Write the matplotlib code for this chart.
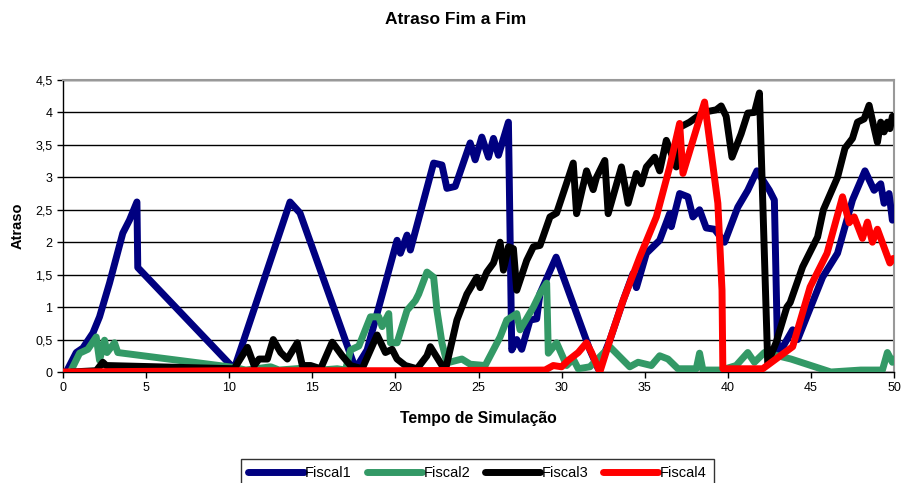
import matplotlib
matplotlib.use("Agg")
import matplotlib.pyplot as plt
from matplotlib.ticker import FuncFormatter, MultipleLocator

plt.rcParams['font.family'] = ['Liberation Sans', 'DejaVu Sans']

title = "Atraso Fim a Fim"
xlabel = "Tempo de Simulação"
ylabel = "Atraso"
series_names = ["Fiscal1", "Fiscal2", "Fiscal3", "Fiscal4"]
colors = ["#000080", "#339966", "#000000", "#FF0000"]

f1_x = [0.2, 0.8, 1.2, 1.8, 2.2, 2.8, 3.6, 4.0, 4.45, 4.5, 10.3, 13.66, 14.26, 17.6,
        18.3, 20.1, 20.3, 20.7, 20.9, 22.3, 22.8, 23.1, 23.6, 24.5, 24.8, 25.2, 25.6, 25.9, 26.2, 26.8,
        27.0, 27.3, 27.6, 28.1, 28.5, 28.7, 29.67, 31.7, 32.2,
        32.9, 33.7, 34.3, 34.5, 35.1, 35.9, 36.5, 36.6, 37.1, 37.6, 37.9, 38.3, 38.7, 39.2, 39.8,
        40.6, 41.2, 41.75, 42.5, 42.8, 43.0, 43.9, 44.2, 45.7, 46.6, 47.5, 48.25, 48.8, 49.2, 49.4, 49.7, 49.9, 50.0]
f1_y = [0.0, 0.3, 0.37, 0.6, 0.85, 1.37, 2.14, 2.34, 2.62, 1.61, 0.05, 2.62, 2.45, 0.05,
        0.34, 2.03, 1.83, 2.11, 1.88, 3.22, 3.19, 2.83, 2.86, 3.53, 3.27, 3.62, 3.31, 3.6, 3.34, 3.85,
        0.34, 0.5, 0.35, 0.8, 0.82, 1.21, 1.77, 0.34, 0.05,
        0.49, 1.1, 1.52, 1.3, 1.83, 2.03, 2.44, 2.24, 2.75, 2.7, 2.39, 2.5, 2.22, 2.2, 2.0,
        2.54, 2.8, 3.1, 2.8, 2.65, 0.25, 0.65, 0.5, 1.46, 1.83, 2.65, 3.1, 2.8, 2.9, 2.6, 2.75, 2.34, 2.5]

f2_x = [0.5, 1.0, 1.5, 2.0, 2.2, 2.5, 2.65, 3.1, 3.3, 10.3, 11.0, 12.5, 13.0, 14.5, 15.0, 16.5, 17.0,
        17.3, 17.8, 18.5, 19.0, 19.2, 19.6, 19.7, 20.1, 20.7, 21.2, 21.4, 21.9, 22.3, 22.5, 22.8, 23.1,
        24.0, 24.5, 25.4, 26.3, 26.7, 27.3, 27.5, 28.3, 28.7, 29.1, 29.2, 29.7, 30.3, 30.7, 31.0, 31.7,
        32.9, 34.1, 34.6, 35.4, 35.9, 36.4, 37.0, 38.1, 38.3, 38.5, 39.6, 40.5, 41.2, 41.6, 42.2, 43.0, 43.8,
        46.2, 48.0, 49.3, 49.6, 49.9, 50.0]
f2_y = [0.03, 0.29, 0.35, 0.54, 0.18, 0.49, 0.3, 0.45, 0.3, 0.07, 0.03, 0.08, 0.03, 0.06, 0.02, 0.05, 0.03,
        0.34, 0.4, 0.85, 0.85, 0.7, 0.9, 0.45, 0.45, 0.95, 1.1, 1.2, 1.54, 1.46, 0.95, 0.45, 0.14,
        0.2, 0.12, 0.1, 0.54, 0.8, 0.9, 0.65, 1.0, 1.21, 1.37, 0.29, 0.45, 0.1, 0.2, 0.05, 0.08,
        0.39, 0.08, 0.15, 0.1, 0.25, 0.2, 0.05, 0.05, 0.29, 0.03, 0.03, 0.1, 0.3, 0.15, 0.3, 0.25, 0.2,
        0.0, 0.03, 0.03, 0.3, 0.15, 0.2]

f3_x = [0.5, 2.0, 2.4, 2.6, 10.3, 11.1, 11.5, 11.8, 12.3, 12.65, 13.1, 13.5, 14.1, 14.4, 14.9, 15.5, 16.2,
        16.8, 17.3, 18.0, 18.9, 19.4, 19.8, 20.1, 20.6, 21.3, 21.9, 22.1, 23.0,
        23.7, 24.3, 24.9, 25.1, 25.5, 25.9, 26.3, 26.5, 26.8, 27.1, 27.3, 27.9, 28.3, 28.7, 29.3, 29.7,
        30.3, 30.7, 30.9, 31.5, 31.9, 32.1, 32.6, 32.8, 33.6, 34.0, 34.5, 34.8, 35.1, 35.6, 35.9, 36.3,
        36.9, 37.1, 37.7, 38.5, 39.3, 39.6, 39.9, 40.25, 40.8, 41.2, 41.6, 41.9, 42.4, 42.9, 43.55, 43.75,
        44.5, 45.4, 45.75, 46.6, 47.05, 47.5, 47.8, 48.2, 48.5, 48.75, 49.0, 49.2, 49.4, 49.6, 49.75, 49.9, 50.0]
f3_y = [0.0, 0.02, 0.15, 0.1, 0.05, 0.38, 0.1, 0.2, 0.2, 0.5, 0.3, 0.2, 0.45, 0.1, 0.1, 0.05, 0.46,
        0.25, 0.1, 0.05, 0.57, 0.3, 0.35, 0.2, 0.1, 0.05, 0.25, 0.39, 0.02,
        0.8, 1.2, 1.46, 1.3, 1.54, 1.68, 2.0, 1.57, 1.93, 1.9, 1.26, 1.72, 1.93, 1.95, 2.39, 2.45,
        2.91, 3.22, 2.44, 3.1, 2.81, 3.0, 3.26, 2.44, 3.16, 2.6, 3.06, 2.9, 3.16, 3.31, 3.1, 3.57,
        3.16, 3.77, 3.85, 4.0, 4.04, 4.1, 3.94, 3.31, 3.67, 3.99, 4.0, 4.3, 0.14, 0.45, 1.0, 1.07,
        1.62, 2.08, 2.5, 3.0, 3.45, 3.6, 3.85, 3.9, 4.11, 3.82, 3.54, 3.85, 3.7, 3.85, 3.75, 3.94, 3.9]

f4_x = [0.0, 10.0, 20.0, 29.0, 29.5, 30.0, 30.4, 31.0, 31.5, 31.8, 32.3,
        32.9, 33.7, 34.7, 35.7, 36.5, 37.1, 37.3, 38.6, 39.4, 39.65, 39.7, 42.1, 43.9,
        44.95, 45.97, 46.9, 47.3, 47.6, 48.1, 48.4, 48.7, 49.0, 49.75, 49.95]
f4_y = [0.0, 0.02, 0.02, 0.03, 0.1, 0.08, 0.18, 0.3, 0.45, 0.3, 0.0,
        0.49, 1.1, 1.77, 2.39, 3.16, 3.83, 3.06, 4.16, 2.6, 1.26, 0.05, 0.05, 0.39,
        1.31, 1.83, 2.7, 2.3, 2.39, 2.06, 2.31, 2.0, 2.2, 1.68, 1.75]

xs = [f1_x, f2_x, f3_x, f4_x]
ys = [f1_y, f2_y, f3_y, f4_y]

fig = plt.figure(figsize=(9.06, 4.83), dpi=100)
ax = fig.add_axes([0.0695, 0.2298, 0.9173, 0.6046])

for i in range(4):
    ax.plot(xs[i], ys[i], color=colors[i], lw=5, solid_joinstyle='round',
            solid_capstyle='round', label=series_names[i], zorder=3 + i)

ax.set_xlim(0, 50)
ax.set_ylim(0, 4.5)
ax.xaxis.set_major_locator(MultipleLocator(5))
ax.yaxis.set_major_locator(MultipleLocator(0.5))
fmt = FuncFormatter(lambda v, p: ("%g" % v).replace('.', ','))
ax.yaxis.set_major_formatter(fmt)
ax.xaxis.set_major_formatter(fmt)
ax.grid(axis='y', color='black', lw=1.0, zorder=1)
ax.set_axisbelow(True)
for s in ['top', 'right']:
    ax.spines[s].set_color('#999999')
    ax.spines[s].set_linewidth(1.5)
for s in ['left', 'bottom']:
    ax.spines[s].set_color('black')
    ax.spines[s].set_linewidth(1.0)
ax.tick_params(axis='both', labelsize=9, length=4, width=1, direction='out', colors='black')

fig.text(0.503, 1 - 19 / 483, title, fontsize=12.5, fontweight='bold', ha='center', va='center')
ax.set_xlabel(xlabel, fontsize=11.3, fontweight='bold', labelpad=12)
ax.set_ylabel(ylabel, fontsize=10.5, fontweight='bold', labelpad=8)

leg = fig.legend(loc='lower center', bbox_to_anchor=(0.527, -0.025), ncol=4, frameon=True,
                 fontsize=10.5, fancybox=False, edgecolor='black', handlelength=3.8,
                 handletextpad=0.1, columnspacing=1.0, borderpad=0.5)
leg.get_frame().set_linewidth(1.0)
for line in leg.get_lines():
    line.set_linewidth(5)

fig.savefig("out.png", dpi=100)
